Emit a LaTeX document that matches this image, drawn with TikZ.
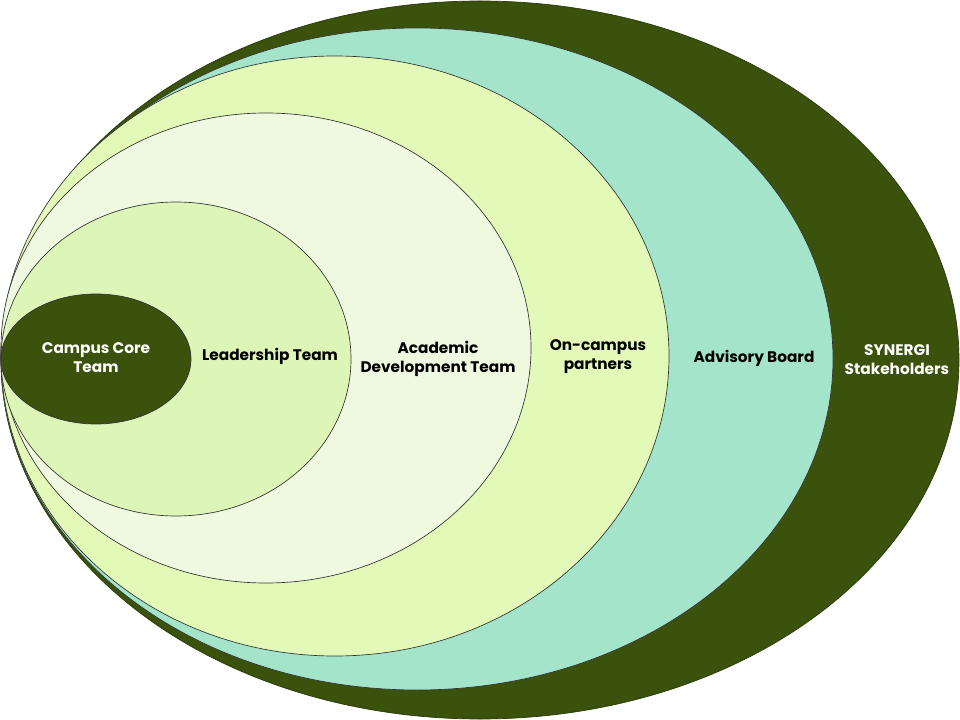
\documentclass[tikz,border=0pt]{standalone}
\usepackage{fontspec}
\setmainfont{Poppins}
\definecolor{darkolive}{HTML}{3A520C}
\definecolor{tealring}{HTML}{A3E4CB}
\definecolor{limering}{HTML}{E2F9B8}
\definecolor{paleringc}{HTML}{EFF9E0}
\definecolor{leadring}{HTML}{DDF6B8}
\begin{document}
\begin{tikzpicture}[x=0.75pt,y=-0.75pt,
  ring/.style={draw=black!80,line width=0.5pt},
  lbl/.style={font=\fontsize{11.5}{14.2}\selectfont\bfseries,align=center,inner sep=0pt},
  lblw/.style={lbl,text=white}]
\useasboundingbox (0,0) rectangle (960,720);
\fill[white] (0,0) rectangle (960,720);
\path[ring,fill=darkolive,draw=darkolive!70!black] (480,360) ellipse [x radius=359.25pt, y radius=269.25pt];
\path[ring,fill=tealring] (417,359) ellipse [x radius=312pt, y radius=248.25pt];
\path[ring,fill=limering] (335,356) ellipse [x radius=250.5pt, y radius=225pt];
\path[ring,fill=paleringc] (266,348) ellipse [x radius=198.75pt, y radius=176.25pt];
\path[ring,fill=leadring] (176,359) ellipse [x radius=131.25pt, y radius=117.75pt];
\path[ring,fill=darkolive] (96,359) ellipse [x radius=71.25pt, y radius=48.75pt];
\node[lblw] (core) at (96,358) {Campus Core\\Team};
\node[lbl] (lead) at (270,356) {Leadership Team};
\node[lbl] (adt) at (438,359) {Academic\\Development Team};
\node[lbl] (onc) at (598,357) {On-campus\\partners};
\node[lbl] (adv) at (754,358) {Advisory Board};
\node[lblw] (syn) at (897,360) {SYNERGI\\Stakeholders};
\end{tikzpicture}
\end{document}
